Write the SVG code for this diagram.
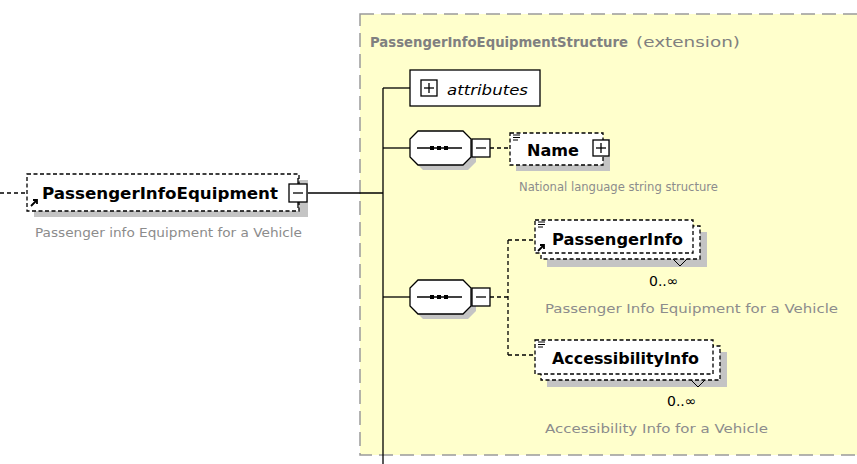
<svg xmlns="http://www.w3.org/2000/svg" width="857" height="464" viewBox="0 0 857 464">
<defs>
<style>
.bg{fill:#ffffcc;stroke:#9a9a9a;stroke-width:1.5;stroke-dasharray:14,7}
.ln{stroke:#000;stroke-width:1.3;fill:none}
.dl{stroke:#000;stroke-width:1.3;fill:none;stroke-dasharray:4,3}
.box{fill:#fff;stroke:#000;stroke-width:1.3}
.dbox{fill:#fff;stroke:#000;stroke-width:1.3;stroke-dasharray:4,2.5}
.sh{fill:#c4c4c4}
.nm{font-family:"DejaVu Sans",Tahoma,sans-serif;font-weight:bold;font-size:15.5px;fill:#000}
.ds{font-family:"DejaVu Sans",Tahoma,sans-serif;font-size:12px;fill:#8c8c8c}
.oc{font-family:"DejaVu Sans",Tahoma,sans-serif;font-size:14px;fill:#000}
.tt{font-family:"DejaVu Sans",Tahoma,sans-serif;font-size:14px;fill:#808080}
</style>
<g id="octo">
<polygon class="sh" points="423,136 468,136 476,144 476,162 468,170 423,170 415,162 415,144"/>
<polygon class="box" points="418,131 463,131 471,139 471,157 463,165 418,165 410,157 410,139"/>
<line class="ln" x1="417" y1="148" x2="462" y2="148"/>
<rect x="430" y="146" width="4" height="4" fill="#000"/>
<rect x="437" y="146" width="4" height="4" fill="#000"/>
<rect x="444" y="146" width="4" height="4" fill="#000"/>
<rect class="box" x="472" y="139" width="18" height="18"/>
<line class="ln" x1="476" y1="148" x2="486" y2="148"/>
</g>
</defs>

<rect class="bg" x="360" y="14" width="510" height="441"/>
<text class="tt" x="370" y="47"><tspan font-weight="bold" textLength="258" lengthAdjust="spacingAndGlyphs">PassengerInfoEquipmentStructure</tspan><tspan x="636" textLength="104" lengthAdjust="spacingAndGlyphs">(extension)</tspan></text>

<g id="connectors">
<line class="dl" x1="0" y1="193" x2="27" y2="193"/>
<line class="ln" x1="307" y1="193" x2="383" y2="193"/>
<line class="ln" x1="383" y1="88" x2="383" y2="464"/>
<line class="ln" x1="383" y1="88" x2="410" y2="88"/>
<line class="ln" x1="383" y1="148" x2="410" y2="148"/>
<line class="ln" x1="383" y1="297" x2="410" y2="297"/>
<line class="dl" x1="490" y1="148" x2="510" y2="148"/>
<line class="dl" x1="490" y1="297" x2="508" y2="297"/>
<line class="dl" x1="508" y1="240" x2="508" y2="355"/>
<line class="dl" x1="508" y1="240" x2="535" y2="240"/>
<line class="dl" x1="508" y1="355" x2="535" y2="355"/>
</g>

<g id="PassengerInfoEquipment">
<rect class="sh" x="34" y="180" width="274" height="37"/>
<rect class="dbox" x="27" y="174" width="272" height="37"/>
<path d="M31,206 L37,200 M33,200 L37,200 L37,204" stroke="#000" stroke-width="1.8" fill="none"/>
<text class="nm" x="42" y="199" textLength="236" lengthAdjust="spacingAndGlyphs">PassengerInfoEquipment</text>
<rect class="box" x="289" y="184" width="18" height="18"/>
<line class="ln" x1="293" y1="193" x2="303" y2="193"/>
<line class="ln" x1="298" y1="178" x2="298" y2="184"/>
<line class="ln" x1="298" y1="202" x2="298" y2="208"/>
<text class="ds" x="35" y="237" textLength="267" lengthAdjust="spacingAndGlyphs">Passenger info Equipment for a Vehicle</text>
</g>

<g id="attributes">
<rect class="box" x="410" y="70" width="130" height="36"/>
<rect class="box" x="421" y="80" width="16" height="16"/>
<line class="ln" x1="424" y1="88" x2="434" y2="88"/>
<line class="ln" x1="429" y1="83" x2="429" y2="93"/>
<text x="447" y="95" font-family="'DejaVu Sans',Tahoma,sans-serif" font-style="italic" font-size="14.5" textLength="81" lengthAdjust="spacingAndGlyphs">attributes</text>
</g>

<g id="sequence1">
<use href="#octo"/>
</g>

<g id="Name">
<rect class="sh" x="516" y="139" width="94" height="32"/>
<rect class="dbox" x="510" y="133" width="93" height="32"/>
<path d="M513,135 h7 M513,137.5 h7 M513,140 h5" stroke="#000" stroke-width="1"/>
<text class="nm" x="527" y="156" textLength="52" lengthAdjust="spacingAndGlyphs">Name</text>
<rect class="box" x="593" y="140" width="16" height="16"/>
<line class="ln" x1="596" y1="148" x2="606" y2="148"/>
<line class="ln" x1="601" y1="143" x2="601" y2="153"/>
<text class="ds" x="519" y="191" textLength="199" lengthAdjust="spacingAndGlyphs">National language string structure</text>
</g>

<g id="sequence2">
<use href="#octo" y="149"/>
</g>

<g id="PassengerInfo">
<rect class="sh" x="547" y="232" width="160" height="35"/>
<rect class="dbox" x="541" y="226" width="159" height="33"/>
<rect class="dbox" x="535" y="220" width="158" height="33"/>
<path d="M538,222 h7 M538,224.5 h7 M538,227 h5" stroke="#000" stroke-width="1"/>
<path d="M538,251 L544,245 M540,245 L544,245 L544,249" stroke="#000" stroke-width="1.8" fill="none"/>
<text class="nm" x="552" y="245" textLength="131" lengthAdjust="spacingAndGlyphs">PassengerInfo</text>
<path d="M673,259 L680,266 L687,259" stroke="#000" stroke-width="1" fill="none"/>
<text class="oc" x="649" y="286">0..∞</text>
<text class="ds" x="545" y="313" textLength="293" lengthAdjust="spacingAndGlyphs">Passenger Info Equipment for a Vehicle</text>
</g>

<g id="AccessibilityInfo">
<rect class="sh" x="547" y="352" width="180" height="35"/>
<rect class="dbox" x="541" y="346" width="179" height="34"/>
<rect class="dbox" x="535" y="340" width="178" height="34"/>
<path d="M538,342 h7 M538,344.5 h7 M538,347 h5" stroke="#000" stroke-width="1"/>
<text class="nm" x="552" y="364" textLength="147" lengthAdjust="spacingAndGlyphs">AccessibilityInfo</text>
<path d="M691,380 L698,387 L705,380" stroke="#000" stroke-width="1" fill="none"/>
<text class="oc" x="667" y="406">0..∞</text>
<text class="ds" x="545" y="433" textLength="223" lengthAdjust="spacingAndGlyphs">Accessibility Info for a Vehicle</text>
</g>
</svg>
